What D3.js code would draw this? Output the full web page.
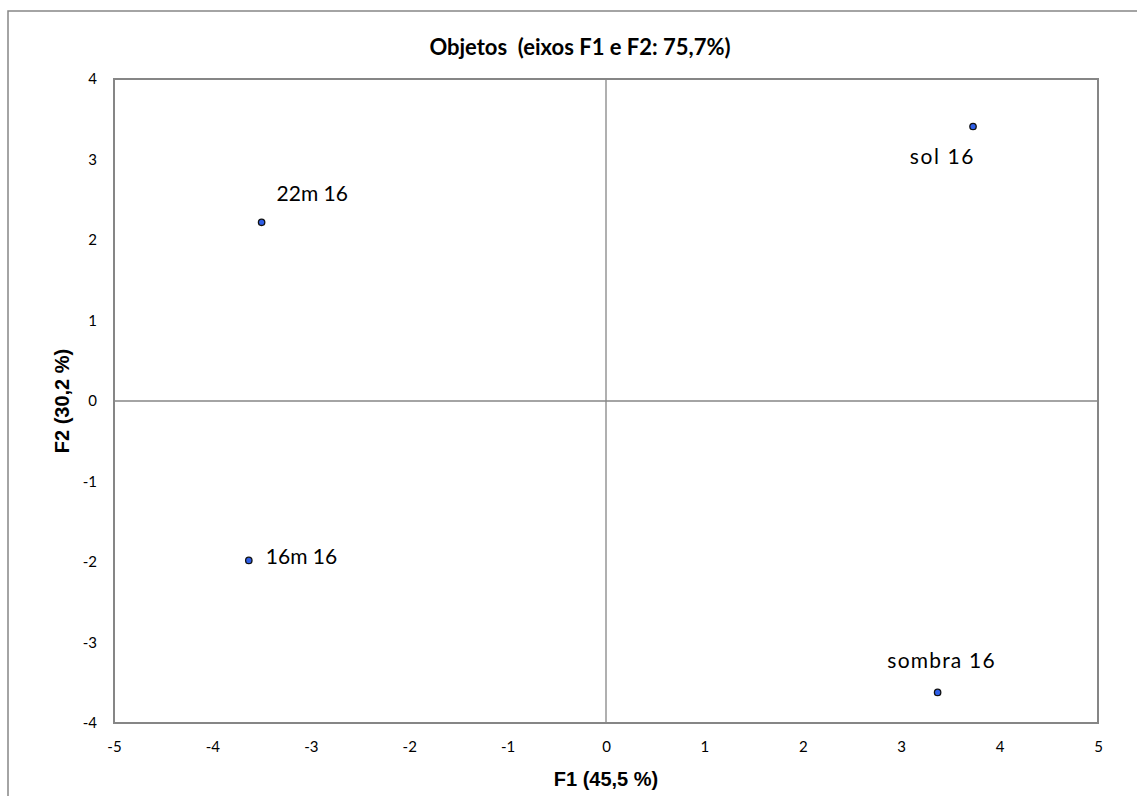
<!DOCTYPE html>
<html>
<head>
<meta charset="utf-8">
<script src="https://cdn.jsdelivr.net/npm/d3@7"></script>
<style>
  html, body { margin: 0; padding: 0; background: #fff; }
  svg { display: block; }
</style>
</head>
<body>
<div id="chart"></div>
<script>
(function () {
  'use strict';

  // --- data ---
  const names = ['sol 16', 'sombra 16', '22m 16', '16m 16'];
  const f1 = [3.73, 3.37, -3.50, -3.63];
  const f2 = [3.41, -3.62, 2.22, -1.98];
  const xTicks = [-5, -4, -3, -2, -1, 0, 1, 2, 3, 4, 5];
  const yTicks = [-4, -3, -2, -1, 0, 1, 2, 3, 4];
  const titleText = 'Objetos  (eixos F1 e F2: 75,7%)';
  const xTitle = 'F1 (45,5 %)';
  const yTitle = 'F2 (30,2 %)';

  // label placement relative to each point (layout, not data)
  const labelPos = {
    'sol 16':    { dx: 2,  dy: 38,  anchor: 'end',    ls: 1.6 },
    'sombra 16': { dx: 4,  dy: -24, anchor: 'middle', ls: 1.2 },
    '22m 16':    { dx: 15, dy: -21, anchor: 'start',  ls: 0 },
    '16m 16':    { dx: 17, dy: 4,   anchor: 'start',  ls: 0 }
  };

  const W = 1137, H = 796;
  const plot = { left: 114, top: 79, right: 1098, bottom: 723 };
  const GRAY = '#868686';
  const bodyFont = 'Lato, "Open Sans", sans-serif';
  const axisFont = '"Liberation Sans", Arial, sans-serif';

  const svg = d3.select('#chart').append('svg')
    .attr('width', W).attr('height', H);

  // outer chart frame (runs off the right / bottom edge)
  svg.append('rect')
    .attr('x', 8).attr('y', 11)
    .attr('width', 1140).attr('height', 800)
    .attr('fill', 'none').attr('stroke', GRAY).attr('stroke-width', 1.5);

  const x = d3.scaleLinear().domain([-5, 5]).range([plot.left, plot.right]);
  const y = d3.scaleLinear().domain([-4, 4]).range([plot.bottom, plot.top]);

  // zero lines
  svg.append('line')
    .attr('x1', x(0)).attr('x2', x(0))
    .attr('y1', plot.top).attr('y2', plot.bottom)
    .attr('stroke', GRAY).attr('stroke-width', 1.3);
  svg.append('line')
    .attr('x1', plot.left).attr('x2', plot.right)
    .attr('y1', y(0)).attr('y2', y(0))
    .attr('stroke', GRAY).attr('stroke-width', 1.3);

  // plot frame
  svg.append('rect')
    .attr('x', plot.left).attr('y', plot.top)
    .attr('width', plot.right - plot.left).attr('height', plot.bottom - plot.top)
    .attr('fill', 'none').attr('stroke', GRAY).attr('stroke-width', 2);

  // axes (labels only, no tick marks); plain hyphen for negatives
  const fmt = d => String(d);
  const xAxis = svg.append('g')
    .attr('transform', `translate(0,${plot.bottom})`)
    .call(d3.axisBottom(x).tickValues(xTicks).tickFormat(fmt).tickSize(0).tickPadding(18));
  const yAxis = svg.append('g')
    .attr('transform', `translate(${plot.left},0)`)
    .call(d3.axisLeft(y).tickValues(yTicks).tickFormat(fmt).tickSize(0).tickPadding(17));
  [xAxis, yAxis].forEach(a => {
    a.select('.domain').remove();
    a.selectAll('text')
      .attr('font-family', bodyFont).attr('font-size', 15).attr('fill', '#000');
  });
  yAxis.selectAll('text').attr('dy', '0.32em');

  // points
  names.forEach((n, i) => {
    svg.append('circle')
      .attr('cx', x(f1[i])).attr('cy', y(f2[i]))
      .attr('r', 3.2)
      .attr('fill', '#2f5fe8').attr('stroke', '#111').attr('stroke-width', 1.3);

    const p = labelPos[n];
    svg.append('text')
      .attr('x', x(f1[i]) + p.dx).attr('y', y(f2[i]) + p.dy)
      .attr('text-anchor', p.anchor)
      .attr('letter-spacing', p.ls)
      .attr('font-family', bodyFont).attr('font-size', 21)
      .attr('fill', '#000')
      .text(n);
  });

  // titles
  svg.append('text')
    .attr('x', 580).attr('y', 55)
    .attr('text-anchor', 'middle')
    .style('white-space', 'pre')
    .attr('font-family', bodyFont).attr('font-weight', 700).attr('font-size', 22)
    .attr('fill', '#000')
    .text(titleText);

  svg.append('text')
    .attr('x', x(0)).attr('y', 786)
    .attr('text-anchor', 'middle')
    .attr('font-family', axisFont)
    .attr('font-weight', 700).attr('font-size', 20)
    .attr('fill', '#000')
    .text(xTitle);

  svg.append('text')
    .attr('transform', `translate(69,${y(0)}) rotate(-90)`)
    .attr('text-anchor', 'middle')
    .attr('font-family', axisFont)
    .attr('font-weight', 700).attr('font-size', 20)
    .attr('fill', '#000')
    .text(yTitle);
})();
</script>
</body>
</html>
